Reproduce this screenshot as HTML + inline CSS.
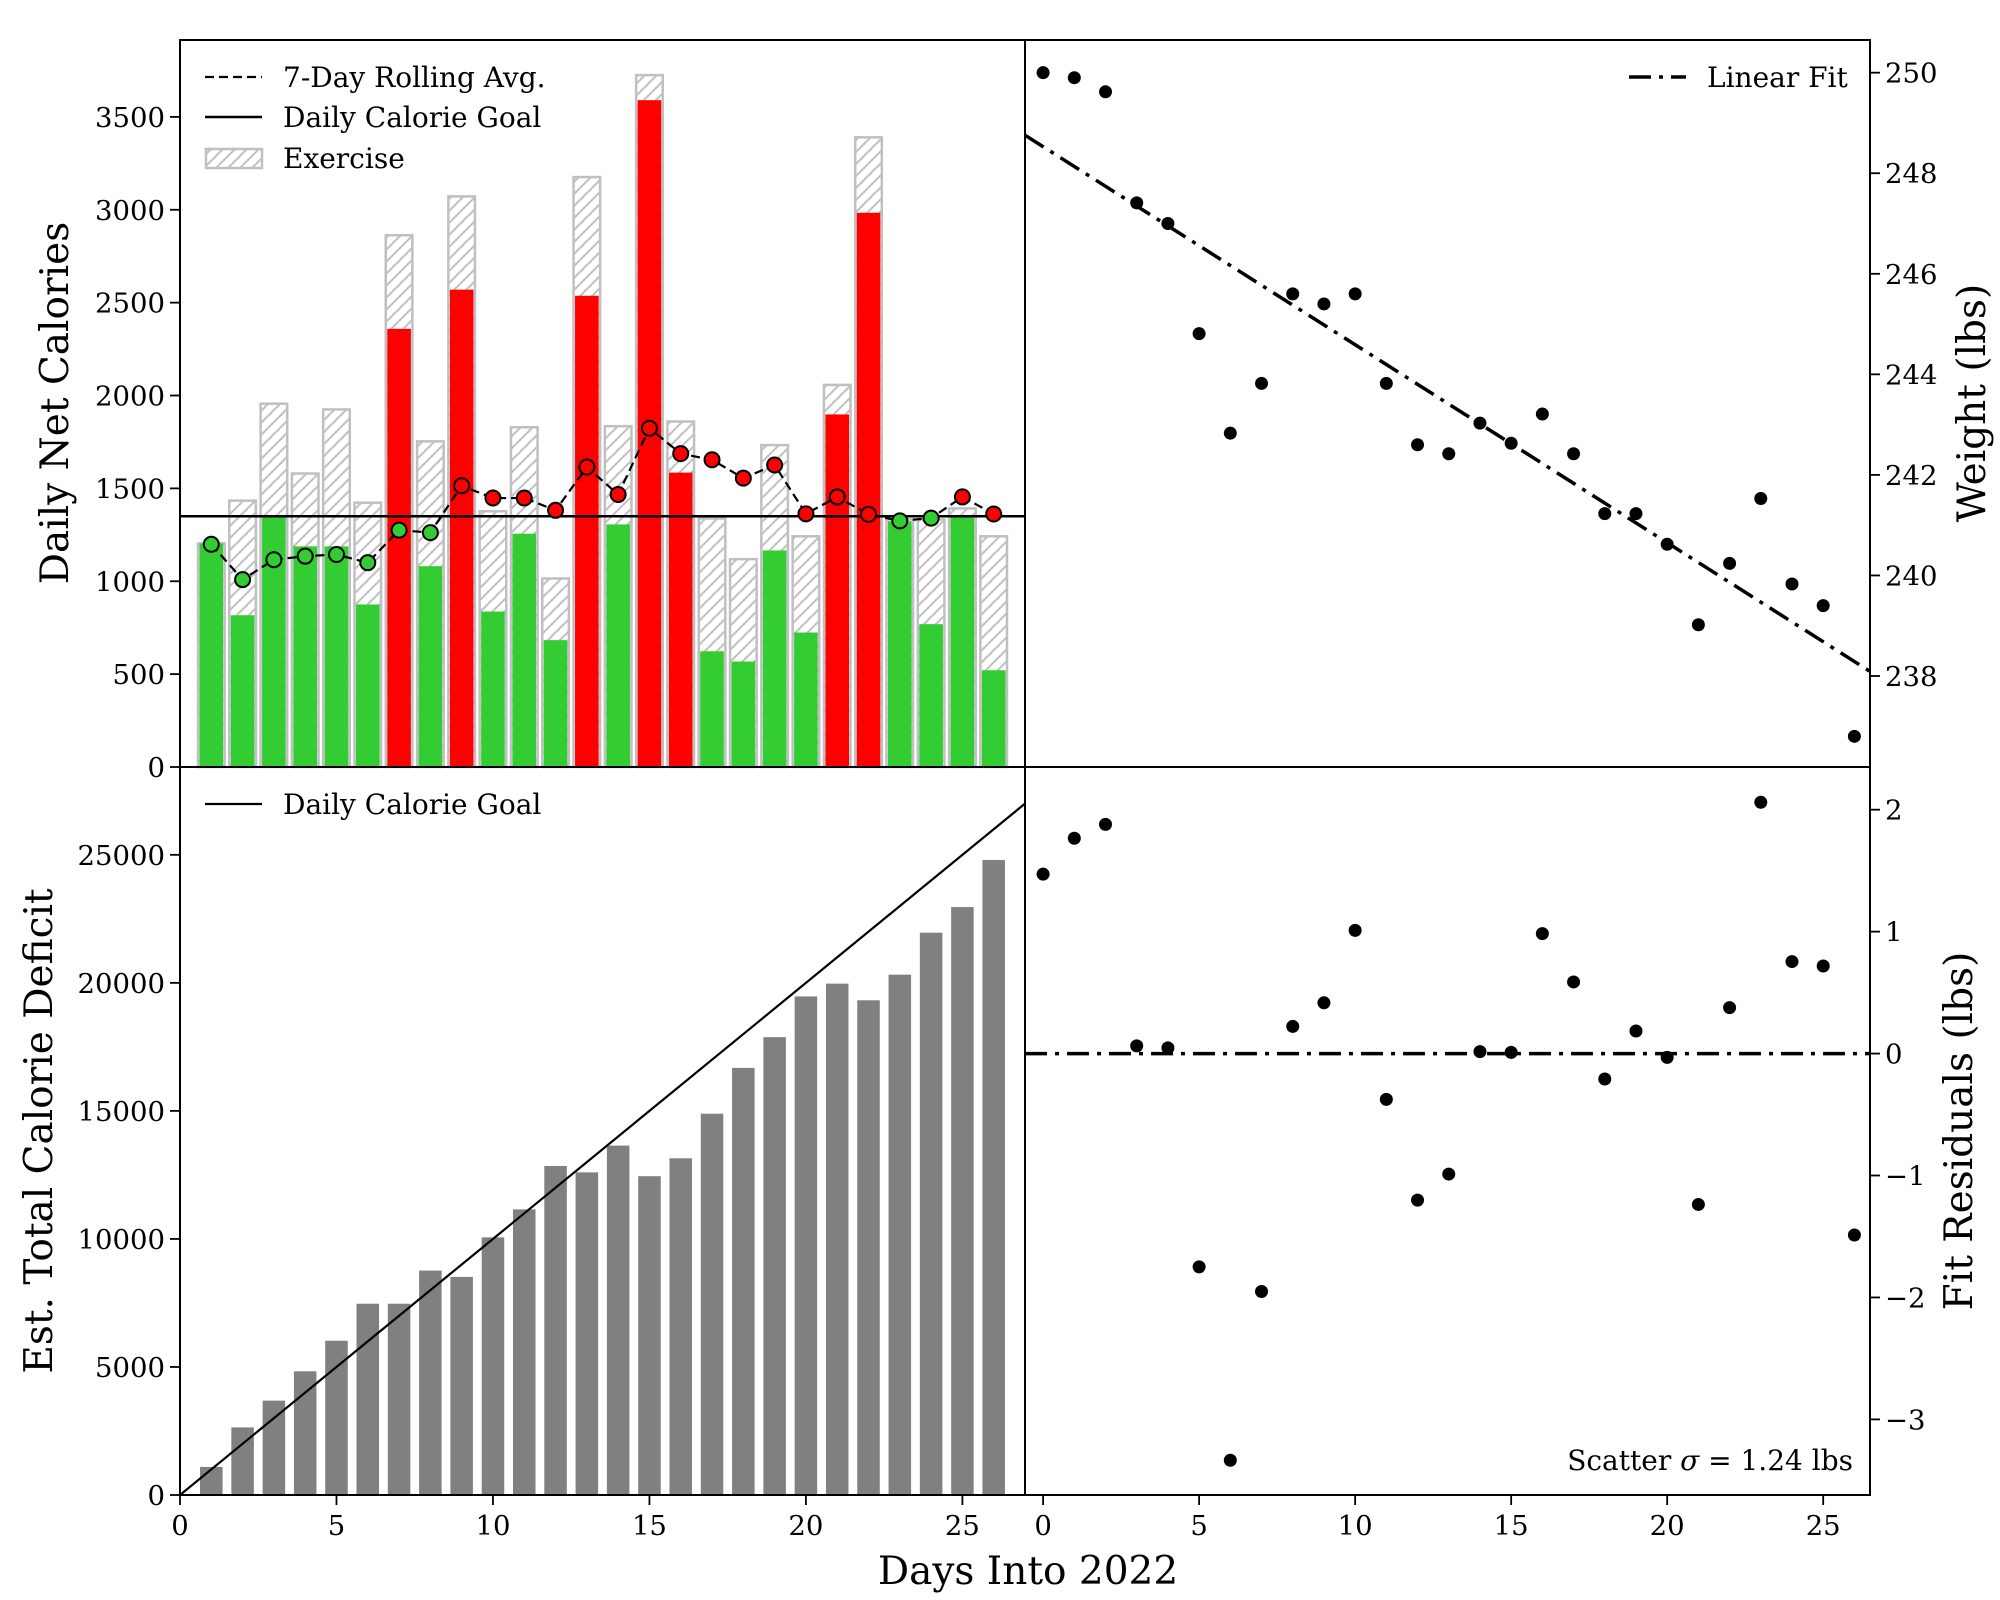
<!DOCTYPE html>
<html><head><meta charset="utf-8">
<style>
html,body{margin:0;padding:0;background:#fff;}
svg{display:block;font-family:"DejaVu Serif","Liberation Serif",serif;}
</style></head>
<body>
<svg id="fig" width="2000" height="1600" viewBox="0 0 2000 1600" xmlns="http://www.w3.org/2000/svg">
<defs>
<pattern id="hatch" patternUnits="userSpaceOnUse" width="12" height="12">
<rect width="12" height="12" fill="#fff"/>
<path d="M-3,3 L3,-3 M0,12 L12,0 M9,15 L15,9" stroke="#c0c0c0" stroke-width="2"/>
</pattern>
</defs>
<g id="root"></g>
</svg>
<script>
const days = [1,2,3,4,5,6,7,8,9,10,11,12,13,14,15,16,17,18,19,20,21,22,23,24,25,26];
const netCalories = [1204,817,1347,1188,1188,875,2359,1081,2570,837,1256,683,2537,1306,3590,1585,623,568,1166,724,1898,2984,1323,769,1344,521];
const totalCalories = [1204,1434,1956,1580,1925,1423,2863,1753,3072,1377,1829,1015,3176,1835,3725,1860,1338,1119,1733,1242,2057,3390,1333,1333,1392,1242];
const rollingAvg = [1199,1009,1116,1135,1144,1100,1275,1262,1514,1448,1448,1382,1615,1467,1824,1687,1654,1555,1626,1363,1454,1360,1325,1340,1454,1362];
const calorieGoal = 1350;
const cumDeficit = [1096,2640,3685,4830,6025,7470,7470,8765,8516,10060,11155,12850,12600,13645,12450,13150,14890,16680,17880,19470,19970,19320,20320,21960,22960,24800];
const goalDeficitPerDay = 1000;
const weightDays = [0,1,2,3,4,5,6,7,8,9,10,11,12,13,14,15,16,17,18,19,20,21,22,23,24,25,26];
const weights = [250.0,249.9,249.62,247.41,247.0,244.81,242.83,243.82,245.6,245.4,245.6,243.82,242.6,242.42,243.03,242.63,243.21,242.42,241.23,241.23,240.62,239.02,240.24,241.53,239.83,239.4,236.8];
const leftYTicks = [0,500,1000,1500,2000,2500,3000,3500];
const bottomYTicks = [0,5000,10000,15000,20000,25000];
const weightTicks = [238,240,242,244,246,248,250];
const residTicks = [-3,-2,-1,0,1,2];
const xTicks = [0,5,10,15,20,25];

const NS="http://www.w3.org/2000/svg";
const root=document.getElementById('root');
function el(tag,attrs,parent,text){const e=document.createElementNS(NS,tag);for(const k in attrs)e.setAttribute(k,attrs[k]);if(text!==undefined)e.textContent=text;(parent||root).appendChild(e);return e;}
function lin(d0,d1,r0,r1){return v=>r0+(v-d0)/(d1-d0)*(r1-r0);}

const FT=27.5, FL=28, FA=39;
const DASHDOT='22,8,4,8';
const L=180,M=1025,R=1870,T=40,MID=767,B=1495;
const xl=lin(0,27,L,M);
const xr=lin(-0.58,26.5,M,R);
const yTop=lin(0,3914,MID,T);
const yBot=lin(0,28430,B,MID);
const yW=lin(236.19,250.65,MID,T);
const yRes=lin(-3.62,2.35,B,MID);

const n=weightDays.length;
let sx=0,sy=0,sxx=0,sxy=0;
for(let i=0;i<n;i++){sx+=weightDays[i];sy+=weights[i];sxx+=weightDays[i]*weightDays[i];sxy+=weightDays[i]*weights[i];}
const slope=(n*sxy-sx*sy)/(n*sxx-sx*sx);
const icpt=(sy-slope*sx)/n;
const residuals=weights.map((w,i)=>w-(icpt+slope*weightDays[i]));

// top-left
const gTL=el('g',{});


const bw=0.85;
days.forEach((d,i)=>{
  const x0=xl(d-bw/2),w=xl(d+bw/2)-x0;
  const t=el('rect',{x:x0,y:yTop(totalCalories[i]),width:w,height:yTop(0)-yTop(totalCalories[i]),fill:'url(#hatch)',stroke:'#c0c0c0','stroke-width':2.5},gTL);
  
  
  const c=netCalories[i]<calorieGoal?'#33cc33':'#ff0000';
  const b=el('rect',{x:x0+1.5,y:yTop(netCalories[i]),width:w-3,height:yTop(0)-yTop(netCalories[i]),fill:c},gTL);
  
  
});
const gl=el('line',{x1:L,x2:M,y1:yTop(calorieGoal),y2:yTop(calorieGoal),stroke:'#000','stroke-width':2.5},gTL);


const ra=el('polyline',{points:days.map((d,i)=>xl(d)+','+yTop(rollingAvg[i])).join(' '),fill:'none',stroke:'#000','stroke-width':2.2,'stroke-dasharray':'9,5'},gTL);


days.forEach((d,i)=>{
  const p=el('circle',{cx:xl(d),cy:yTop(rollingAvg[i]),r:7.5,fill:rollingAvg[i]<calorieGoal?'#33cc33':'#ff0000',stroke:'#000','stroke-width':2},gTL);
  
  
});
leftYTicks.forEach(v=>{
  el('line',{x1:L-10,x2:L,y1:yTop(v),y2:yTop(v),stroke:'#000','stroke-width':1.8},gTL);
  const t=el('text',{x:L-15,y:yTop(v)+10,'text-anchor':'end','font-size':FT},gTL,String(v));
  
  
});
const lg=el('g',{},gTL);


el('line',{x1:205,x2:262,y1:77,y2:77,stroke:'#000','stroke-width':2.2,'stroke-dasharray':'9,5'},lg);
el('text',{x:283,y:87,'font-size':FL},lg,'7-Day Rolling Avg.');
el('line',{x1:205,x2:262,y1:117,y2:117,stroke:'#000','stroke-width':2.5},lg);
el('text',{x:283,y:127,'font-size':FL},lg,'Daily Calorie Goal');
el('rect',{x:206,y:149,width:56,height:19,fill:'url(#hatch)',stroke:'#c0c0c0','stroke-width':2.5},lg);
el('text',{x:283,y:168,'font-size':FL},lg,'Exercise');
const ylab1=el('text',{x:0,y:0,'font-size':FA,'text-anchor':'middle',transform:'translate(68,403) rotate(-90)'},gTL,'Daily Net Calories');



// bottom-left
const gBL=el('g',{});


const bw2=0.72;
days.forEach((d,i)=>{
  const x0=xl(d-bw2/2);
  const b=el('rect',{x:x0,y:yBot(cumDeficit[i]),width:xl(d+bw2/2)-x0,height:yBot(0)-yBot(cumDeficit[i]),fill:'#808080'},gBL);
  
  
});
const gl2=el('line',{x1:xl(0),y1:yBot(0),x2:xl(27),y2:yBot(27*goalDeficitPerDay),stroke:'#000','stroke-width':2.2},gBL);


bottomYTicks.forEach(v=>{
  el('line',{x1:L-10,x2:L,y1:yBot(v),y2:yBot(v),stroke:'#000','stroke-width':1.8},gBL);
  const t=el('text',{x:L-15,y:yBot(v)+10,'text-anchor':'end','font-size':FT},gBL,String(v));
  
  
});
xTicks.forEach(v=>{
  el('line',{x1:xl(v),x2:xl(v),y1:B,y2:B+10,stroke:'#000','stroke-width':1.8},gBL);
  const t=el('text',{x:xl(v),y:B+40,'text-anchor':'middle','font-size':FT},gBL,String(v));
  
  
});
const lg2=el('g',{},gBL);


el('line',{x1:205,x2:262,y1:804,y2:804,stroke:'#000','stroke-width':2.2},lg2);
el('text',{x:283,y:814,'font-size':FL},lg2,'Daily Calorie Goal');
const ylab2=el('text',{x:0,y:0,'font-size':FA,'text-anchor':'middle',transform:'translate(52,1131) rotate(-90)'},gBL,'Est. Total Calorie Deficit');



// top-right
const gTR=el('g',{});


const fit=el('line',{x1:xr(-0.58),y1:yW(icpt+slope*-0.58),x2:xr(26.5),y2:yW(icpt+slope*26.5),stroke:'#000','stroke-width':3.5,'stroke-dasharray':DASHDOT},gTR);


weightDays.forEach((d,i)=>{
  const p=el('circle',{cx:xr(d),cy:yW(weights[i]),r:6.5,fill:'#000'},gTR);
  
  
});
weightTicks.forEach(v=>{
  el('line',{x1:R,x2:R+10,y1:yW(v),y2:yW(v),stroke:'#000','stroke-width':1.8},gTR);
  const t=el('text',{x:R+15,y:yW(v)+10,'text-anchor':'start','font-size':FT},gTR,String(v));
  
  
});
const lg3=el('g',{},gTR);


el('line',{x1:1629,x2:1686,y1:77,y2:77,stroke:'#000','stroke-width':3.5,'stroke-dasharray':DASHDOT},lg3);
el('text',{x:1707,y:87,'font-size':FL},lg3,'Linear Fit');
const ylab3=el('text',{x:0,y:0,'font-size':FA,'text-anchor':'middle',transform:'translate(1985,403) rotate(-90)'},gTR,'Weight (lbs)');



// bottom-right
const gBR=el('g',{});


const zl=el('line',{x1:M,x2:R,y1:yRes(0),y2:yRes(0),stroke:'#000','stroke-width':3.5,'stroke-dasharray':DASHDOT},gBR);


weightDays.forEach((d,i)=>{
  const p=el('circle',{cx:xr(d),cy:yRes(residuals[i]),r:6.5,fill:'#000'},gBR);
  
  
});
residTicks.forEach(v=>{
  el('line',{x1:R,x2:R+10,y1:yRes(v),y2:yRes(v),stroke:'#000','stroke-width':1.8},gBR);
  const t=el('text',{x:R+15,y:yRes(v)+10,'text-anchor':'start','font-size':FT},gBR,v<0?'\u2212'+Math.abs(v):String(v));
  
  
});
xTicks.forEach(v=>{
  el('line',{x1:xr(v),x2:xr(v),y1:B,y2:B+10,stroke:'#000','stroke-width':1.8},gBR);
  const t=el('text',{x:xr(v),y:B+40,'text-anchor':'middle','font-size':FT},gBR,String(v));
  
  
});
const sc=el('text',{x:1853,y:1470,'text-anchor':'end','font-size':FL},gBR);


el('tspan',{},sc,'Scatter ');
el('tspan',{'font-style':'italic'},sc,'\u03c3');
el('tspan',{},sc,' = 1.24 lbs');
const ylab4=el('text',{x:0,y:0,'font-size':FA,'text-anchor':'middle',transform:'translate(1972,1131) rotate(-90)'},gBR,'Fit Residuals (lbs)');



[[L,T,M-L,MID-T,'net-calories-frame'],[L,MID,M-L,B-MID,'deficit-frame'],[M,T,R-M,MID-T,'weight-frame'],[M,MID,R-M,B-MID,'residuals-frame']].forEach(f=>{
  const r=el('rect',{x:f[0],y:f[1],width:f[2],height:f[3],fill:'none',stroke:'#000','stroke-width':2});
  
  
});
const xt=el('text',{x:1028,y:1584,'text-anchor':'middle','font-size':FA},root,'Days Into 2022');


</script>
</body></html>
